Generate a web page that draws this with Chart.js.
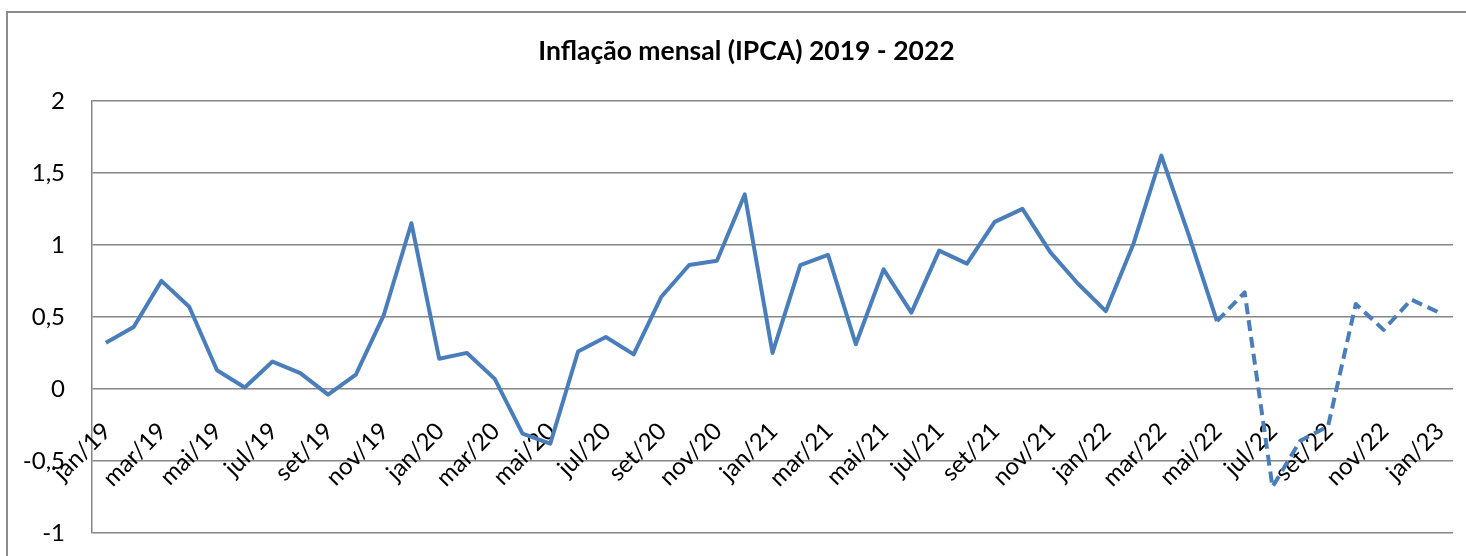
<!DOCTYPE html>
<html>
<head>
<meta charset="utf-8">
<script src="https://cdn.jsdelivr.net/npm/chart.js@4/dist/chart.umd.min.js"></script>
<style>
  html, body { margin: 0; padding: 0; background: #fff; overflow: hidden; }
  #wrap { position: relative; width: 1466px; height: 556px; }
  #frame { position: absolute; left: 6px; top: 11px; width: 1480px; height: 600px;
           border-left: 2px solid #8c8c8c; border-top: 2px solid #8c8c8c; pointer-events: none; }
</style>
</head>
<body>
<div id="wrap">
  <canvas id="c" width="1466" height="556"></canvas>
  <div id="frame"></div>
</div>
<script>
const categories = [
  'jan/19','fev/19','mar/19','abr/19','mai/19','jun/19','jul/19','ago/19','set/19','out/19','nov/19','dez/19',
  'jan/20','fev/20','mar/20','abr/20','mai/20','jun/20','jul/20','ago/20','set/20','out/20','nov/20','dez/20',
  'jan/21','fev/21','mar/21','abr/21','mai/21','jun/21','jul/21','ago/21','set/21','out/21','nov/21','dez/21',
  'jan/22','fev/22','mar/22','abr/22','mai/22','jun/22','jul/22','ago/22','set/22','out/22','nov/22','dez/22',
  'jan/23'
];
const ipca2019 = [0.32, 0.43, 0.75, 0.57, 0.13, 0.01, 0.19, 0.11, -0.04, 0.10, 0.51, 1.15];
const ipca2020 = [0.21, 0.25, 0.07, -0.31, -0.38, 0.26, 0.36, 0.24, 0.64, 0.86, 0.89, 1.35];
const ipca2021 = [0.25, 0.86, 0.93, 0.31, 0.83, 0.53, 0.96, 0.87, 1.16, 1.25, 0.95, 0.73];
const ipca2022 = [0.54, 1.01, 1.62, 1.06, 0.47, 0.67, -0.68, -0.36, -0.26, 0.59, 0.41, 0.62];
const ipca2023 = [0.53];
const dashedFromIndex = 40; // mai/22 onward drawn dashed
const yTickValues = [-1, -0.5, 0, 0.5, 1, 1.5, 2];

const values = [].concat(ipca2019, ipca2020, ipca2021, ipca2022, ipca2023);
const FONT = 'Lato, "Open Sans", sans-serif';

new Chart(document.getElementById('c'), {
  type: 'line',
  data: {
    labels: categories,
    datasets: [{
      data: values,
      borderColor: '#4a7ebb',
      backgroundColor: '#4a7ebb',
      borderWidth: 4,
      pointRadius: 0,
      tension: 0,
      borderJoinStyle: 'round',
      segment: {
        borderDash: ctx => ctx.p0DataIndex >= dashedFromIndex ? [11, 6] : undefined
      }
    }]
  },
  options: {
    responsive: false,
    animation: false,
    layout: { padding: { left: 40, right: 13, top: 36, bottom: 23 } },
    plugins: {
      legend: { display: false },
      tooltip: { enabled: false },
      title: {
        display: true,
        text: 'Inflação mensal (IPCA) 2019 - 2022',
        color: '#000',
        font: { family: FONT, size: 26.5, weight: 'bold' },
        padding: { top: 0, bottom: 33 }
      }
    },
    scales: {
      y: {
        min: -1, max: 2,
        afterBuildTicks: s => { s.ticks = yTickValues.map(v => ({ value: v })); },
        afterFit: s => {
          s.width = 52;
          s.paddingTop = 0;
          s.paddingBottom = 0;
          s._computeLabelArea = () => undefined; // let labels extend left of the axis box
        },
        ticks: {
          color: '#000',
          padding: 27,
          font: { family: FONT, size: 24 },
          callback: v => String(v).replace('.', ',')
        },
        grid: { color: '#868686', lineWidth: 1.5, drawTicks: false },
        border: { display: true, color: '#868686', width: 1.5 }
      },
      x: {
        position: { y: 0 },
        offset: true,
        afterFit: s => { s.height = 0; s.paddingLeft = 0; s.paddingRight = 0; s.paddingTop = 0; s.paddingBottom = 0; },
        grid: { display: false, drawTicks: false },
        border: { display: false },
        ticks: {
          color: '#000',
          autoSkip: false,
          maxRotation: 45,
          minRotation: 45,
          padding: 28,
          labelOffset: 1,
          font: { family: FONT, size: 24 },
          callback: (v, i) => i % 2 === 0 ? categories[i] : ''
        }
      }
    }
  }
});
</script>
</body>
</html>
